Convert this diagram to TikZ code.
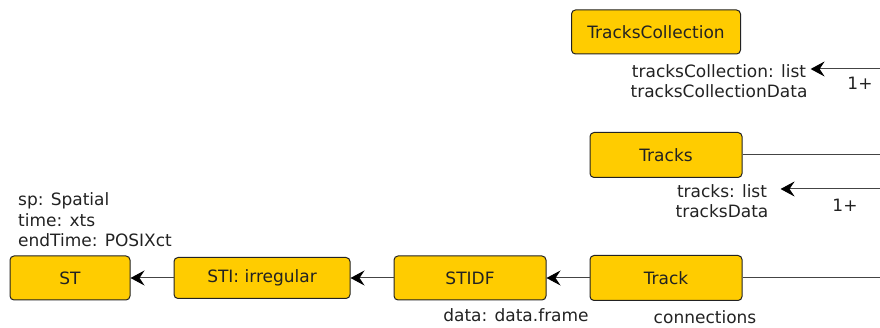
\documentclass[tikz,border=0pt]{standalone}
\usepackage{fontspec}
\setmainfont{DejaVu Sans}
\usepackage{tikz}
\usetikzlibrary{arrows.meta}
\definecolor{boxfill}{HTML}{FFCC00}
\definecolor{ink}{HTML}{222222}
\definecolor{wire}{HTML}{444444}
\tikzset{
  cls/.style={draw=ink, fill=boxfill, rounded corners=4pt, line width=1pt,
    minimum height=44pt, minimum width=152pt, inner sep=0pt, text=ink},
  attr/.style={text=ink, inner sep=0pt, align=center},
  link/.style={draw=wire, line width=1pt},
  arr/.style={link, -{Stealth[length=14pt,width=15pt,inset=5pt,color=black]}}
}
\begin{document}
\begin{tikzpicture}[x=1pt, y=1pt, node distance=196pt, font=\fontsize{17}{20.5}\selectfont]
	\useasboundingbox (0,0) rectangle (880,-328);
	% classes
	\node[cls, minimum width=169pt] (coll) at (656,-32) {TracksCollection};
	\node[cls, minimum height=45pt] (tracks) at (666,-155) {Tracks};
	\node[cls, minimum height=45pt] (track) at (666,-278) {Track};
	\node[cls] (stidf) [left of=track] {STIDF};
	\node[cls, minimum width=176pt, minimum height=41pt] (sti) at (262,-278) {STI: irregular};
	\node[cls, minimum width=120pt] (st) at (70,-278) {ST};
	% slots
	\node[attr] (collslots) at (719,-81) {tracksCollection: list\\tracksCollectionData};
	\node[attr] (tracksslots) at (722,-201) {tracks: list\\tracksData};
	\node[attr, align=left, anchor=west] (stslots) at (18,-220) {sp: Spatial\\time: xts\\endTime: POSIXct};
	\node[attr] (stidfslots) at (516,-315) {data: data.frame};
	\node[attr] (trackslots) at (705,-317) {connections};
	\node[attr] (collmult) at (860,-83) {1+};
	\node[attr] (tracksmult) at (845,-205) {1+};
	% free ends at the border
	\coordinate (collin) at (880,-69);
	\coordinate (tracksin) at (880,-189);
	\coordinate (tracksout) at (880,-155);
	\coordinate (trackout) at (880,-278);
	\draw[arr] (collin) -- ([xshift=3pt]collin -| collslots.east);
	\draw[arr] (tracksin) -- ([xshift=12pt]tracksin -| tracksslots.east);
	\draw[link] (tracks) -- (tracksout);
	\draw[link] (track) -- (trackout);
	\draw[arr] (track) -- (stidf);
	\draw[arr] (stidf) -- (sti);
	\draw[arr] (sti) -- (st);
\end{tikzpicture}
\end{document}
